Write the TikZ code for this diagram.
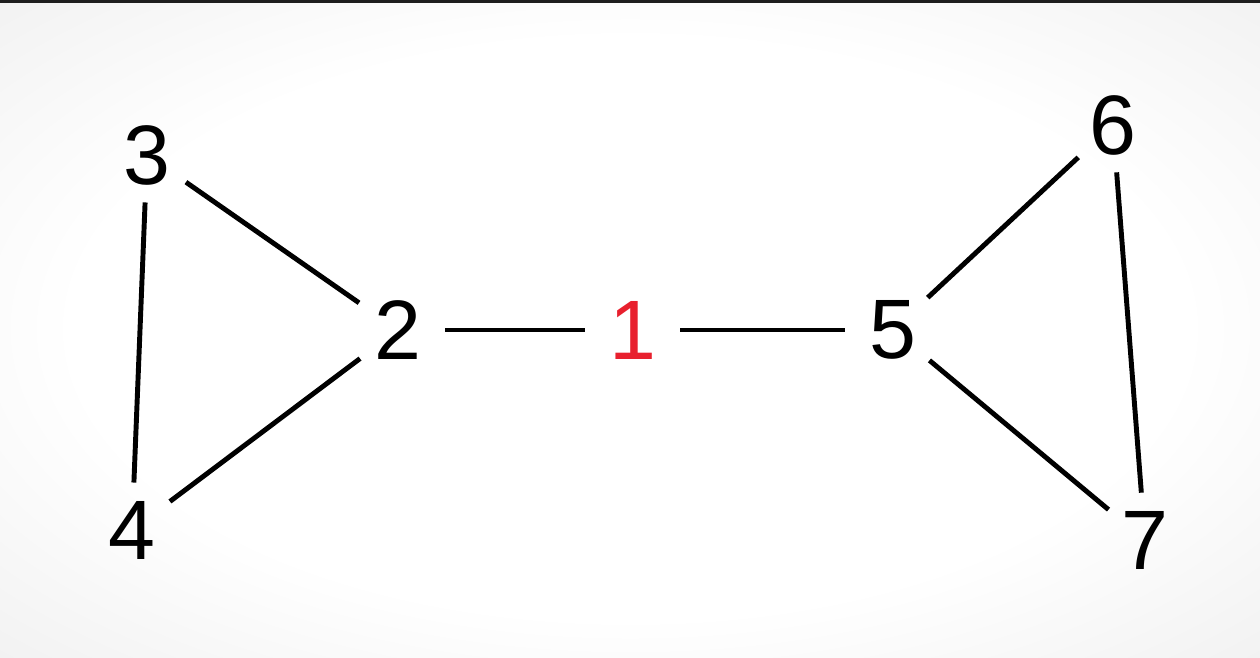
\documentclass[tikz,border=0pt]{standalone}
\usepackage{fontspec}
\setmainfont{Liberation Sans}

\definecolor{rootred}{HTML}{E8202E}
\definecolor{edgegray}{HTML}{E4E4E4}
\definecolor{topbar}{HTML}{1E1E1E}

\pgfdeclareradialshading{bgglow}{\pgfpoint{0bp}{0bp}}{%
    color(0bp)=(white); color(22bp)=(white); color(50bp)=(edgegray)}

\begin{document}
\begin{tikzpicture}[
        vertex/.style={circle, minimum size=0.95cm, inner sep=0pt, outer sep=0pt, font=\fontsize{24}{28}\selectfont},
        edge/.style={line width=1.4pt, black}
    ]

        % ==================== 背景 ====================
        \useasboundingbox (0,0) rectangle (12.6,6.57);
        \shade[shading=bgglow] (0,0) rectangle (12.6,6.57);
        \fill[topbar] (0,6.54) rectangle (12.6,6.57);

        % ==================== 顶点 ====================
        \node[vertex, text=rootred] (v1) at (6.33,3.27) {1};
        \node[vertex] (v2) at (3.98,3.27) {2};
        \node[vertex] (v3) at (1.47,5.02) {3};
        \node[vertex] (v4) at (1.32,1.27) {4};
        \node[vertex] (v5) at (8.93,3.27) {5};
        \node[vertex] (v6) at (11.13,5.32) {6};
        \node[vertex] (v7) at (11.45,1.17) {7};

        % 左侧三角形
        \draw[edge] (v3) -- (v4);
        \draw[edge] (v3) -- (v2);
        \draw[edge] (v2) -- (v4);

        % 中间的链
        \draw[edge] (v2) -- (v1);
        \draw[edge] (v1) -- (v5);

        % 右侧三角形
        \draw[edge] (v5) -- (v6);
        \draw[edge] (v5) -- (v7);
        \draw[edge] (v6) -- (v7);

    \end{tikzpicture}
\end{document}
